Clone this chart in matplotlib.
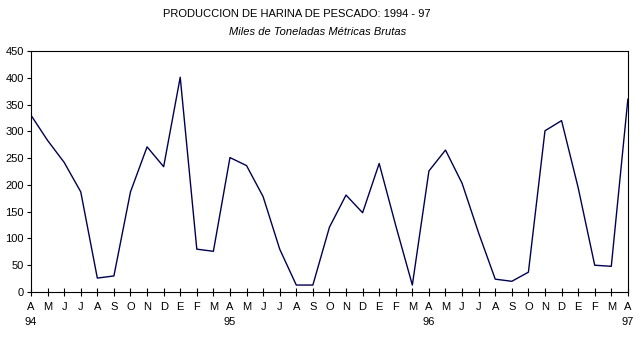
import matplotlib
matplotlib.use('Agg')
import matplotlib.pyplot as plt
import matplotlib.transforms as mtransforms

plt.rcParams['font.family'] = ['Liberation Sans', 'DejaVu Sans']

months = ['A', 'M', 'J', 'J', 'A', 'S', 'O', 'N', 'D',
          'E', 'F', 'M', 'A', 'M', 'J', 'J', 'A', 'S', 'O', 'N', 'D',
          'E', 'F', 'M', 'A', 'M', 'J', 'J', 'A', 'S', 'O', 'N', 'D',
          'E', 'F', 'M', 'A']
production = [330, 283, 242, 187, 26, 30, 187, 271, 234,
              401, 80, 76, 251, 236, 178, 80, 13, 13, 121, 181, 148,
              240, 124, 13, 226, 265, 203, 110, 24, 20, 37, 301, 320,
              195, 50, 48, 360]
year_pos = [0, 12, 24, 36]
year_labels = ['94', '95', '96', '97']

fig = plt.figure(figsize=(6.42, 3.37), dpi=100)
ax = fig.add_axes([0.0483, 0.1335, 0.9297, 0.7152])

x = list(range(len(production)))
ax.plot(x, production, color='#000050', linewidth=1.0)

ax.set_xlim(0, len(production) - 1)
ax.set_ylim(0, 450)
ax.set_yticks(range(0, 451, 50))
ax.set_xticks(x)
ax.set_xticklabels(months)
ax.tick_params(axis='x', direction='inout', length=6, width=0.8, labelsize=8, pad=4)
ax.tick_params(axis='y', direction='out', length=3, width=0.8, labelsize=8, pad=2)
for s in ax.spines.values():
    s.set_linewidth(0.8)

trans = mtransforms.blended_transform_factory(ax.transData, fig.transFigure)
for p, lab in zip(year_pos, year_labels):
    ax.text(p, 1 - 322 / 337, lab, transform=trans, ha='center', va='center', fontsize=8)

fig.text(297 / 642, 1 - 14 / 337, 'PRODUCCION DE HARINA DE PESCADO: 1994 - 97',
         ha='center', va='center', fontsize=8)
fig.text(318 / 642, 1 - 32 / 337, 'Miles de Toneladas Métricas Brutas',
         ha='center', va='center', fontsize=8, style='italic')

fig.savefig('out.png', dpi=100)
